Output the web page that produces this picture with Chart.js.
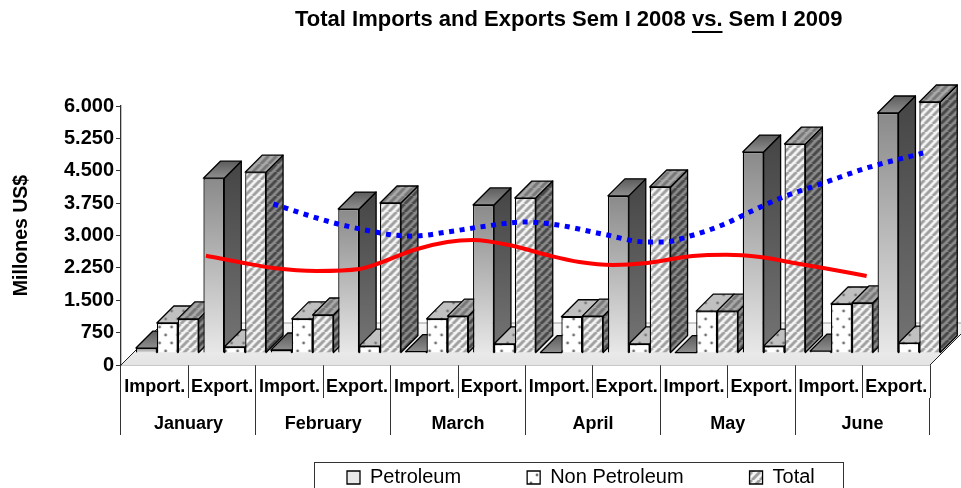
<!DOCTYPE html>
<html><head><meta charset="utf-8">
<style>html,body{margin:0;padding:0;background:#fff;overflow:hidden}canvas{display:block}</style>
<script src="https://cdn.jsdelivr.net/npm/chart.js@4/dist/chart.umd.min.js"></script>
</head><body><canvas id="c" width="961" height="488"></canvas>
<script>
const months = ['January','February','March','April','May','June'];
const categories = ['Import.','Export.','Import.','Export.','Import.','Export.','Import.','Export.','Import.','Export.','Import.','Export.'];
const petroleum    = [115,4050,70,3335,30,3430,10,3640,8,4655,45,5560];
const nonPetroleum = [695,140,790,160,790,210,840,210,970,160,1135,230];
const total        = [790,4190,880,3475,855,3590,855,3845,970,4840,1160,5815];
const redX = [0.63,0.90,1.13,1.45,1.77,1.92,2.17,2.42,2.61,2.91,3.16,3.40,3.65,3.90,4.24,4.49,4.74,4.98,5.24,5.53];
const redY = [2532,2370,2247,2178,2224,2363,2664,2849,2896,2757,2548,2386,2317,2363,2525,2555,2502,2370,2231,2062];
const blueX = [1.13,1.38,1.61,1.85,2.02,2.17,2.42,2.66,3.00,3.24,3.57,3.90,4.03,4.22,4.46,4.68,4.91,5.21,5.53,5.95];
const blueY = [3730,3475,3266,3104,3012,2988,3081,3197,3313,3243,3035,2849,2849,2988,3243,3568,3892,4216,4564,4911];
const titleText = 'Total Imports and Exports Sem I 2008 vs. Sem I 2009';
const titleBefore = 'Total Imports and Exports Sem I 2008 ';
const titleUnderlined = 'vs.';

const DX = 12.6, DY = 12, DEPTH = 17, FLOOR = 42;
const canvas = document.getElementById('c');
const g = canvas.getContext('2d');

function stripes(bg, fg){
  const s = 8, t = document.createElement('canvas'); t.width = s; t.height = s;
  const c = t.getContext('2d'); c.fillStyle = bg; c.fillRect(0,0,s,s);
  c.strokeStyle = fg; c.lineWidth = 3;
  for (const o of [-s,0,s]) { c.beginPath(); c.moveTo(o,s); c.lineTo(o+s,0); c.stroke(); }
  return g.createPattern(t,'repeat');
}
function dots(bg, fg){
  const w = 12, h = 16, t = document.createElement('canvas'); t.width = w; t.height = h;
  const c = t.getContext('2d'); c.fillStyle = bg; c.fillRect(0,0,w,h);
  c.fillStyle = fg;
  for (const [x,y] of [[3,3],[9,11]]) { c.beginPath(); c.arc(x,y,1.4,0,7); c.fill(); }
  return g.createPattern(t,'repeat');
}
const patterns = {
  totalFront: stripes('#f4f4f4','#a0a0a0'), totalSide: stripes('#8a8a8a','#484848'), totalTop: stripes('#a8a8a8','#777777'),
  nonFront: dots('#ffffff','#707070'), nonSide: dots('#999999','#666666'), nonTop: dots('#c0c0c0','#787878')
};
function vGrad(y0,y1,a,b){ const l = g.createLinearGradient(0,y0,0,y1); l.addColorStop(0,a); l.addColorStop(1,b); return l; }
function petFront(ctx){
  const y = ctx.chart.scales.y;
  const y0 = (ctx.type === 'data' && y) ? y.getPixelForValue(ctx.raw) : NaN;
  const y1 = y ? y.getPixelForValue(0) : NaN;
  if (!isFinite(y0) || !isFinite(y1)) return vGrad(470,484,'#707070','#d8d8d8');
  return vGrad(y0, y1, '#8a8a8a', '#e8e8e8');
}

const scene = {
  id:'scene',
  beforeLayout(chart){
    const lg = chart.legend;
    if (lg && !lg._wrapped){
      const f = lg.fit; lg.fit = function(){ f.call(this); this.height = 53; }; lg._wrapped = true;
    }
  },
  beforeDraw(chart){
    const lg = chart.legend;
    lg.left = 281; lg.right = 900; lg.top = 401.5; lg.bottom = 488;
    chart.titleBlock.left = 295; chart.titleBlock.right = 900;
    const c = chart.ctx;
    c.save(); c.strokeStyle = '#333'; c.lineWidth = 1;
    c.strokeRect(314.5,462.5,529,40);
    c.restore();
  },
  afterDraw(chart){
    const c = chart.ctx; c.save();
    c.font = chart.options.plugins.title.font.weight+' '+chart.options.plugins.title.font.size+'px "Liberation Sans"';
    const x0 = 295 + c.measureText(titleBefore).width;
    const w = c.measureText(titleUnderlined).width;
    c.strokeStyle = '#000'; c.lineWidth = 2;
    c.beginPath(); c.moveTo(x0,32); c.lineTo(x0+w,32); c.stroke();
    c.restore();
  },
  beforeDatasetsDraw(chart){
    const c = chart.ctx, xs = chart.scales.x, ys = chart.scales.y;
    const L = xs.left, R = xs.right, B = ys.bottom;
    c.save();
    const fl = vGrad(B-FLOOR,B,'#f6f6f6','#e4e4e4');
    c.fillStyle = fl;
    c.beginPath(); c.moveTo(L,B); c.lineTo(R,B); c.lineTo(R+FLOOR,B-FLOOR); c.lineTo(L+FLOOR,B-FLOOR); c.closePath(); c.fill();
    c.strokeStyle = '#999'; c.lineWidth = 1;
    c.beginPath(); c.moveTo(L+FLOOR,B-FLOOR); c.lineTo(R+FLOOR,B-FLOOR); c.stroke();
    c.strokeStyle = '#222';
    c.beginPath(); c.moveTo(L,B); c.lineTo(L+FLOOR,B-FLOOR); c.moveTo(R,B); c.lineTo(R+FLOOR,B-FLOOR); c.stroke();
    c.translate(DX,-DY);
    c.lineJoin = 'round'; c.strokeStyle = '#000'; c.lineWidth = 1.3;
    const bars = chart.data.datasets.map((d,i)=>({d,m:chart.getDatasetMeta(i)})).filter(o=>o.m.type==='bar');
    for (let i = 0; i < categories.length; i++){
      for (const {d,m} of bars){
        const e = m.data[i], l = e.x-e.width/2, r = e.x+e.width/2, t = e.y, b = e.base;
        let side, top;
        if (d.kind === 'pet'){
          side = vGrad(t-DEPTH,b-DEPTH,'#454545','#707070');
          top = vGrad(t-DEPTH,t,'#5c5c5c','#8e8e8e');
        } else if (d.kind === 'non'){ side = patterns.nonSide; top = patterns.nonTop; }
        else { side = patterns.totalSide; top = patterns.totalTop; }
        c.fillStyle = side;
        c.beginPath(); c.moveTo(r,t); c.lineTo(r+DEPTH,t-DEPTH); c.lineTo(r+DEPTH,b-DEPTH); c.lineTo(r,b); c.closePath(); c.fill(); c.stroke();
        c.fillStyle = top;
        c.beginPath(); c.moveTo(l,t); c.lineTo(l+DEPTH,t-DEPTH); c.lineTo(r+DEPTH,t-DEPTH); c.lineTo(r,t); c.closePath(); c.fill(); c.stroke();
      }
    }
    c.restore();
  },
  beforeDatasetDraw(chart,args){
    const c = chart.ctx; c.save();
    if (args.meta.type === 'bar') c.translate(DX,-DY);
  },
  afterDatasetDraw(chart){ chart.ctx.restore(); }
};

/* line positions are read in month units; the shared x axis counts import/export slots */
const pts = (xs,ys)=>xs.map((x,i)=>({x:2*x-0.5,y:ys[i]}));
const BOLD = w=>({family:'"Liberation Sans"',weight:'bold',size:w});
const barOpts = {borderColor:'#000',borderWidth:1.3,order:1,clip:false,categoryPercentage:0.93,barPercentage:1};
const lineOpts = {type:'line',tension:0,cubicInterpolationMode:'monotone',pointRadius:0,fill:false,order:0,clip:false};

new Chart(canvas,{
  type:'bar',
  data:{
    labels:categories.map((_,i)=>i),
    datasets:[
      {...lineOpts,label:'Trend 2008',data:pts(blueX,blueY),borderColor:'#0000ff',borderWidth:5,borderDash:[5,5.6],borderCapStyle:'butt'},
      {...lineOpts,label:'Trend 2009',data:pts(redX,redY),borderColor:'#ff0000',borderWidth:4},
      {...barOpts,label:'Petroleum',kind:'pet',data:petroleum,backgroundColor:petFront},
      {...barOpts,label:'Non Petroleum',kind:'non',data:nonPetroleum,backgroundColor:patterns.nonFront},
      {...barOpts,label:'Total',kind:'tot',data:total,backgroundColor:patterns.totalFront}
    ]
  },
  options:{
    responsive:false,animation:false,
    layout:{padding:{left:0,right:31,top:0,bottom:0}},
    scales:{
      y:{min:0,max:6000,position:'left',
        afterFit:s=>{s.width=121;},
        ticks:{stepSize:750,color:'#000',font:BOLD(20),padding:2,callback:v=>String(v).replace(/\B(?=\d{3}$)/,'.')},
        grid:{drawOnChartArea:false,tickLength:5,color:'#333'},
        border:{color:'#333',width:1.3},
        title:{display:true,text:'Millones US$',color:'#000',font:BOLD(19.5),padding:{top:10,bottom:0}}
      },
      x:{type:'linear',min:0,max:categories.length-1,position:'bottom',weight:0,offset:true,
        afterBuildTicks:s=>{s.ticks=categories.map((_,i)=>({value:i}));},
        afterFit:s=>{s.height=33;},
        ticks:{color:'#000',font:BOLD(18),padding:-22,autoSkip:false,maxRotation:0,minRotation:0,callback:v=>categories[v]},
        grid:{drawOnChartArea:false,offset:true,tickLength:33,color:'#333'},
        border:{color:'#222',width:1.3}
      },
      x2:{type:'category',labels:months,position:'bottom',weight:1,offset:true,
        afterFit:s=>{s.height=37;},
        ticks:{color:'#000',font:BOLD(18),padding:-22,autoSkip:false,maxRotation:0,minRotation:0},
        grid:{drawOnChartArea:false,offset:true,tickLength:37,color:'#333'},
        border:{display:false}
      }
    },
    plugins:{
      tooltip:{enabled:false},
      title:{display:true,text:titleText,align:'start',color:'#000',font:{family:'"Liberation Sans"',weight:'bold',size:22},padding:{top:7,bottom:72.6}},
      legend:{display:true,position:'bottom',align:'start',
        labels:{font:{family:'"Liberation Sans"',size:20},color:'#000',boxWidth:13,boxHeight:13,padding:66,
          filter:it=>['Petroleum','Non Petroleum','Total'].includes(it.text)}}
    }
  },
  plugins:[scene]
});
</script></body></html>
